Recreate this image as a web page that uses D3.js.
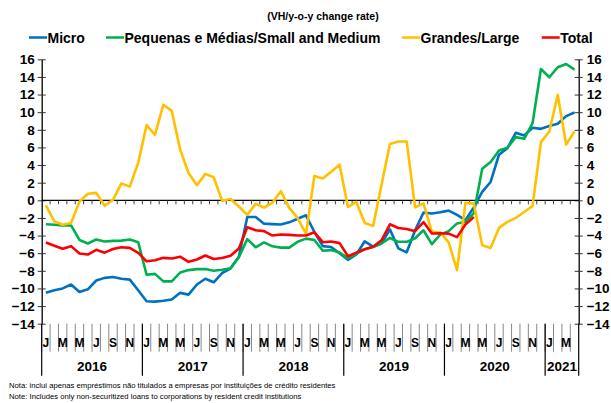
<!DOCTYPE html>
<html>
<head>
<meta charset="utf-8">
<script src="https://cdn.jsdelivr.net/npm/d3@7"></script>
<style>
  body { margin: 0; background: #fff; }
  svg { display: block; font-family: 'Liberation Sans', Arial, sans-serif; }
</style>
</head>
<body>
<div class="visHolder"></div>
<script>
// categories: jan 2016 .. apr 2021
let years = ['2016', '2017', '2018', '2019', '2020', '2021'];
let monthsInYear = [12, 12, 12, 12, 12, 4];
let monthLabels = ['J', '', 'M', '', 'M', '', 'J', '', 'S', '', 'N', ''];
let yTicks = [16, 14, 12, 10, 8, 6, 4, 2, 0, -2, -4, -6, -8, -10, -12, -14];

let seriesNames = ['Micro', 'Pequenas e Médias/Small and Medium', 'Grandes/Large', 'Total'];
let seriesColors = ['#0070C0', '#00B050', '#FFC000', '#FF0000'];

let micro = [-10.5, -10.2, -10.0, -9.55, -10.4, -10.1, -9.1, -8.8, -8.7, -8.9, -9.0, -10.2,
  -11.45, -11.5, -11.4, -11.25, -10.5, -10.7, -9.55, -8.9, -9.3, -8.25, -7.75, -6.4,
  -1.9, -1.9, -2.65, -2.7, -2.75, -2.5, -2.1, -1.7, -3.6, -5.2, -5.3, -6.0,
  -6.75, -6.15, -4.65, -5.25, -4.9, -3.3, -5.45, -5.9, -3.4, -1.4, -1.5, -1.35,
  -1.17, -1.65, -2.25, -0.8, 0.95, 2.08, 5.17, 5.92, 7.66, 7.36, 8.23, 8.11,
  8.42, 8.68, 9.55, 9.96];

let pequenas = [-2.72, -2.78, -2.85, -2.85, -4.5, -4.9, -4.45, -4.68, -4.6, -4.57, -4.45, -4.75,
  -8.45, -8.35, -9.2, -9.2, -8.2, -7.92, -7.81, -7.8, -8.0, -7.87, -7.7, -6.45,
  -4.4, -5.33, -4.78, -5.22, -5.37, -5.37, -4.71, -4.35, -4.5, -5.73, -5.65, -5.93,
  -6.55, -6.07, -5.55, -5.3, -4.9, -4.27, -4.71, -4.71, -4.3, -3.4, -4.98, -3.9,
  -3.5, -2.62, -2.43, -1.45, 3.57, 4.34, 5.66, 5.96, 7.17, 6.98, 8.75, 14.9,
  13.96, 15.1, 15.47, 14.83];

let grandes = [-0.57, -2.38, -2.78, -2.58, -0.15, 0.74, 0.84, -0.62, 0.06, 1.92, 1.55, 4.23,
  8.53, 7.43, 10.85, 10.15, 5.75, 3.1, 1.72, 3.0, 2.62, -0.06, 0.15, -0.7,
  -1.65, -0.4, -0.83, -0.27, 1.04, -0.85, -2.02, -3.8, 2.77, 2.47, 3.25, 4.04,
  -0.75, -0.19, -2.57, -2.9, 1.77, 6.4, 6.68, 6.68, -0.8, -0.35, -3.57, -3.65,
  -4.77, -7.92, -0.27, -0.38, -5.09, -5.4, -3.13, -2.45, -2.0, -1.32, -0.64, 6.6,
  7.81, 11.96, 6.34, 7.81];

let total = [-4.78, -5.15, -5.5, -5.2, -6.03, -6.15, -5.62, -5.94, -5.52, -5.33, -5.4, -5.95,
  -6.92, -6.8, -6.53, -6.6, -6.4, -6.98, -6.72, -6.26, -6.66, -6.55, -6.3, -5.47,
  -3.05, -3.39, -3.5, -4.0, -3.88, -3.92, -3.99, -4.0, -3.63, -4.75, -4.67, -4.86,
  -6.34, -5.94, -5.56, -5.28, -4.54, -2.72, -3.14, -3.25, -3.5, -2.47, -3.76, -3.74,
  -3.78, -4.18, -2.75, -1.9];

let width = 611,
  height = 403,
  plotLeft = 41.7,
  plotRight = 578.7,
  plotTop = 59.3,
  plotBottom = 323.7;

// build month index list with month letter and year
let months = [];
years.forEach(function (yr, k) {
  for (let m = 0; m < monthsInYear[k]; m++) {
    months.push({ year: yr, label: monthLabels[m], idx: months.length });
  }
});

let svg = d3
  .select('.visHolder')
  .append('svg')
  .attr('width', width)
  .attr('height', height);

let x = d3
  .scaleBand()
  .domain(months.map(function (d) { return d.idx; }))
  .range([plotLeft, plotRight])
  .padding(0);

let y = d3.scaleLinear().domain([-14, 16]).range([plotBottom, plotTop]);

let xc = function (i) {
  return x(i) + x.bandwidth() / 2;
};

// title
svg
  .append('text')
  .attr('x', 323)
  .attr('y', 20)
  .attr('text-anchor', 'middle')
  .style('font-size', '10.5px')
  .style('font-weight', 'bold')
  .text('(VH/y-o-y change rate)');

// legend
let legendX = [29, 106, 402, 541.7];
seriesNames.forEach(function (name, i) {
  svg
    .append('line')
    .attr('x1', legendX[i])
    .attr('x2', legendX[i] + 18)
    .attr('y1', 37.5)
    .attr('y2', 37.5)
    .attr('stroke', seriesColors[i])
    .attr('stroke-width', 2.5);
  svg
    .append('text')
    .attr('x', legendX[i] + 18.5)
    .attr('y', 42.5)
    .style('font-size', '14px')
    .style('font-weight', 'bold')
    .text(name);
});

// left and right y axes with cross ticks
let yAxisL = d3.axisLeft(y).tickValues(yTicks).tickSizeInner(4).tickSizeOuter(0).tickPadding(4);
let yAxisR = d3.axisRight(y).tickValues(yTicks).tickSizeInner(4).tickSizeOuter(0).tickPadding(7);

[[yAxisL, plotLeft], [yAxisR, plotRight]].forEach(function (a, k) {
  let g = svg
    .append('g')
    .attr('transform', 'translate(' + a[1] + ',0)')
    .call(a[0]);
  g.select('.domain').attr('stroke', '#000').attr('stroke-width', 1.3);
  g.selectAll('.tick line')
    .attr('x1', -4)
    .attr('x2', 4)
    .attr('stroke', '#333')
    .attr('stroke-width', 1);
  g.selectAll('.tick text')
    .attr('x', k === 0 ? -7 : 8)
    .style('font-size', '13.5px')
    .style('font-weight', 'bold')
    .style('font-family', "'Liberation Sans', Arial, sans-serif")
    .attr('fill', '#000');
});

// zero line with month ticks
svg
  .append('line')
  .attr('x1', plotLeft)
  .attr('x2', plotRight)
  .attr('y1', y(0))
  .attr('y2', y(0))
  .attr('stroke', '#000')
  .attr('stroke-width', 1.3);

svg
  .append('g')
  .selectAll('line')
  .data(months.slice(1))
  .enter()
  .append('line')
  .attr('x1', function (d) { return x(d.idx); })
  .attr('x2', function (d) { return x(d.idx); })
  .attr('y1', y(0))
  .attr('y2', y(0) + 4)
  .attr('stroke', '#444')
  .attr('stroke-width', 1);

// bottom category axis: month lines, letters, year separators
svg
  .append('g')
  .selectAll('line')
  .data(months)
  .enter()
  .append('line')
  .attr('x1', function (d) { return x(d.idx); })
  .attr('x2', function (d) { return x(d.idx); })
  .attr('y1', plotBottom)
  .attr('y2', plotBottom + 28)
  .attr('stroke', '#888')
  .attr('stroke-width', 1);

svg
  .append('g')
  .selectAll('text')
  .data(months.filter(function (d) { return d.label !== ''; }))
  .enter()
  .append('text')
  .attr('x', function (d) { return xc(d.idx); })
  .attr('y', plotBottom + 23)
  .attr('text-anchor', 'middle')
  .style('font-size', '12px')
  .style('font-weight', 'bold')
  .text(function (d) { return d.label; });

let yearStart = [];
let acc = 0;
years.forEach(function (yr, k) {
  yearStart.push(acc);
  acc += monthsInYear[k];
});

svg
  .append('g')
  .selectAll('line')
  .data(yearStart.concat([acc]))
  .enter()
  .append('line')
  .attr('x1', function (d) { return d < acc ? x(d) : plotRight; })
  .attr('x2', function (d) { return d < acc ? x(d) : plotRight; })
  .attr('y1', plotBottom)
  .attr('y2', plotBottom + 52)
  .attr('stroke', '#000')
  .attr('stroke-width', 1.2);

svg
  .append('g')
  .selectAll('text')
  .data(years)
  .enter()
  .append('text')
  .attr('x', function (d, k) {
    let a = x(yearStart[k]);
    let b = k < years.length - 1 ? x(yearStart[k + 1]) : plotRight;
    return (a + b) / 2;
  })
  .attr('y', plotBottom + 47)
  .attr('text-anchor', 'middle')
  .style('font-size', '13.5px')
  .style('font-weight', 'bold')
  .text(function (d) { return d; });

// series lines
let line = d3
  .line()
  .x(function (d, i) { return xc(i); })
  .y(function (d) { return y(d); });

[micro, pequenas, grandes, total].forEach(function (s, k) {
  svg
    .append('path')
    .datum(s)
    .attr('d', line)
    .attr('fill', 'none')
    .attr('stroke', seriesColors[k])
    .attr('stroke-width', 2.6)
    .attr('stroke-linejoin', 'round');
});

// notes
svg
  .append('text')
  .attr('x', 9)
  .attr('y', 387.5)
  .style('font-size', '7.7px')
  .text('Nota: inclui apenas empréstimos não titulados a empresas por instituições de crédito residentes');
svg
  .append('text')
  .attr('x', 9)
  .attr('y', 399)
  .style('font-size', '7.7px')
  .text('Note: Includes only non-securitized loans to corporations by resident credit institutions');
</script>
</body>
</html>
